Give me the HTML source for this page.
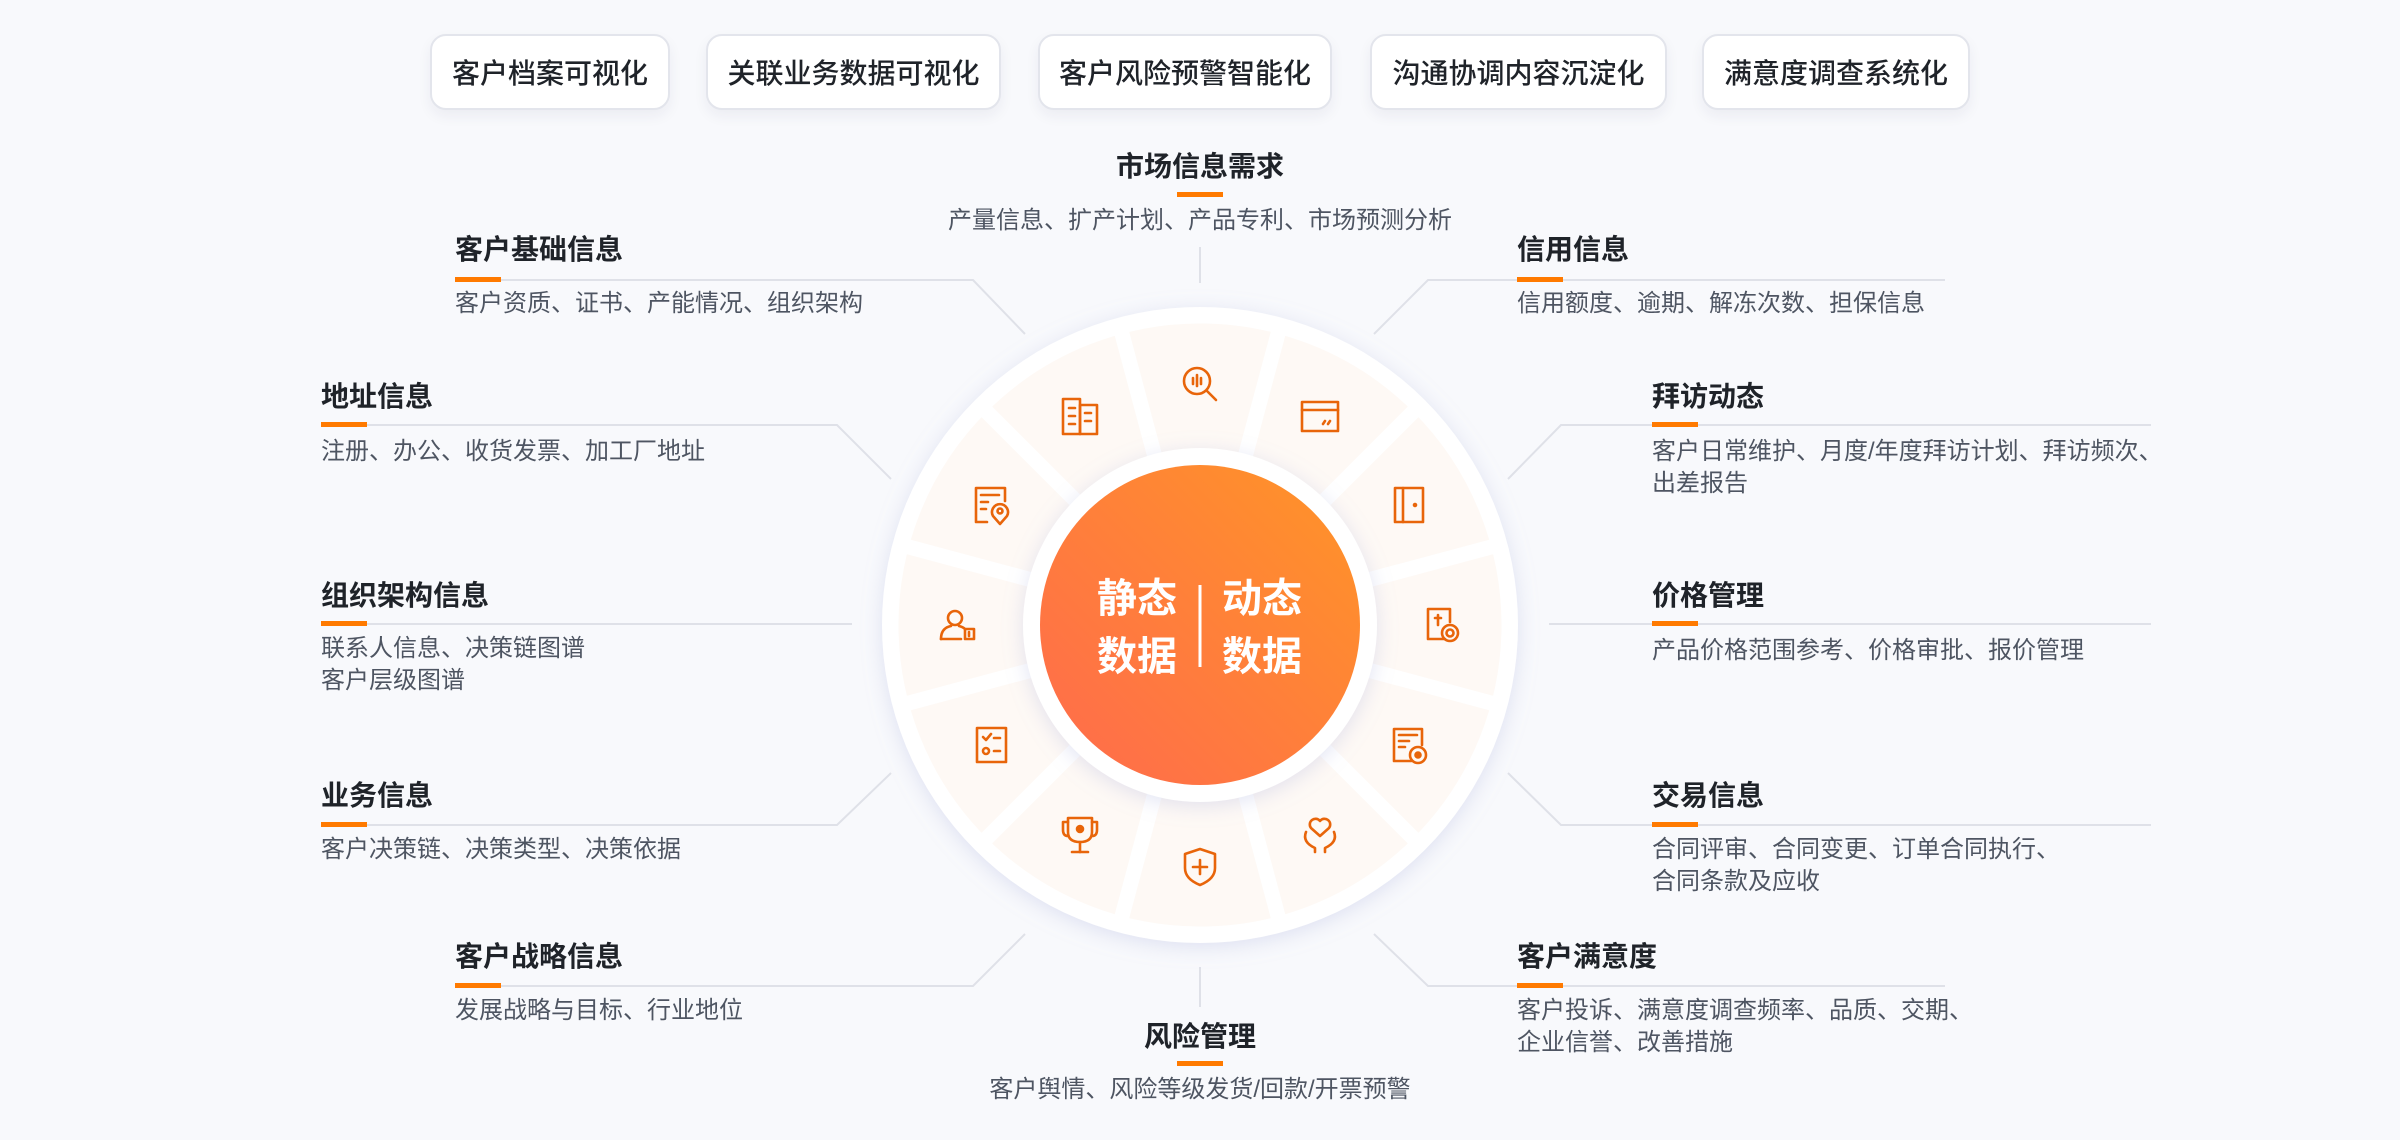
<!DOCTYPE html>
<html><head><meta charset="utf-8"><style>
*{margin:0;padding:0;box-sizing:border-box}
body{width:2400px;height:1140px;background:#f8f9fc;position:relative;overflow:hidden;font-family:"Liberation Sans","Noto Sans CJK SC",sans-serif}
.box{position:absolute;top:34px;height:76px;background:#fff;border:2px solid #e3e5ec;border-radius:16px;box-shadow:0 6px 14px rgba(30,40,80,0.06);font-size:28px;font-weight:500;color:#1f2329;display:flex;align-items:center;justify-content:center}
.t{position:absolute;font-size:28px;font-weight:600;color:#1f2329;line-height:30px;white-space:nowrap}
.d{position:absolute;font-size:24px;color:#4e5562;line-height:32px;white-space:nowrap}
.u{position:absolute;width:46px;height:5px;background:#ff7a00}
</style></head><body>
<div class="box" style="left:430px;width:240px">客户档案可视化</div>
<div class="box" style="left:706px;width:295px">关联业务数据可视化</div>
<div class="box" style="left:1038px;width:294px">客户风险预警智能化</div>
<div class="box" style="left:1370px;width:297px">沟通协调内容沉淀化</div>
<div class="box" style="left:1702px;width:268px">满意度调查系统化</div>

<svg width="2400" height="1140" style="position:absolute;left:0;top:0">
<defs>
<linearGradient id="og" x1="1" y1="0" x2="0" y2="1"><stop offset="0" stop-color="#ff9527"/><stop offset="1" stop-color="#ff6a4d"/></linearGradient>
<filter id="sh" x="-20%" y="-20%" width="140%" height="140%"><feDropShadow dx="0" dy="4" stdDeviation="10" flood-color="#a0a8d8" flood-opacity="0.3"/></filter>
</defs>
<g stroke="#dfe1e8" stroke-width="2" fill="none">
<polyline points="455,280 973,280 1025,334"/>
<polyline points="1945,280 1428,280 1374,334"/>
<polyline points="321,425 837,425 891,479"/>
<polyline points="2151,425 1561,425 1508,479"/>
<polyline points="321,624 852,624"/>
<polyline points="2151,624 1549,624"/>
<polyline points="321,825 837,825 891,773"/>
<polyline points="2151,825 1561,825 1508,773"/>
<polyline points="455,986 973,986 1025,934"/>
<polyline points="1945,986 1428,986 1374,934"/>
<line x1="1200" y1="247" x2="1200" y2="283"/>
<line x1="1200" y1="967" x2="1200" y2="1007"/>
</g>
<circle cx="1200" cy="625" r="318" fill="#fff" filter="url(#sh)"/>
<circle cx="1200" cy="625" r="239" fill="none" stroke="#fef9f5" stroke-width="125"/>
<g stroke="#fff" stroke-width="15" transform="translate(1200,625)">
<line x1="0" y1="-170" x2="0" y2="-310" transform="rotate(15)"/>
<line x1="0" y1="-170" x2="0" y2="-310" transform="rotate(45)"/>
<line x1="0" y1="-170" x2="0" y2="-310" transform="rotate(75)"/>
<line x1="0" y1="-170" x2="0" y2="-310" transform="rotate(105)"/>
<line x1="0" y1="-170" x2="0" y2="-310" transform="rotate(135)"/>
<line x1="0" y1="-170" x2="0" y2="-310" transform="rotate(165)"/>
<line x1="0" y1="-170" x2="0" y2="-310" transform="rotate(195)"/>
<line x1="0" y1="-170" x2="0" y2="-310" transform="rotate(225)"/>
<line x1="0" y1="-170" x2="0" y2="-310" transform="rotate(255)"/>
<line x1="0" y1="-170" x2="0" y2="-310" transform="rotate(285)"/>
<line x1="0" y1="-170" x2="0" y2="-310" transform="rotate(315)"/>
<line x1="0" y1="-170" x2="0" y2="-310" transform="rotate(345)"/>
</g>
<circle cx="1200" cy="625" r="177" fill="#fff" filter="url(#sh)"/>
<circle cx="1200" cy="625" r="160" fill="url(#og)"/>
<line x1="1200" y1="585" x2="1200" y2="667" stroke="#fff" stroke-width="3"/>
<g fill="#fff" font-size="40" font-weight="700" font-family="Liberation Sans, Noto Sans CJK SC, sans-serif" text-anchor="middle">
<text x="1137" y="612">静态</text><text x="1137" y="670">数据</text>
<text x="1262" y="612">动态</text><text x="1262" y="670">数据</text>
</g>
<g stroke="#e8650a" stroke-width="2.6" fill="none" stroke-linecap="round" stroke-linejoin="round">
<g transform="translate(1200,384)"><circle cx="-3" cy="-3" r="13"/><line x1="7" y1="7" x2="16" y2="16"/><line x1="-7" y1="-6" x2="-7" y2="0"/><line x1="-3" y1="-9" x2="-3" y2="2"/><line x1="1" y1="-6" x2="1" y2="0"/></g>
<g transform="translate(1320,416)"><rect x="-18" y="-14" width="36" height="29"/><line x1="-18" y1="-6" x2="18" y2="-6"/><line x1="3" y1="8" x2="5" y2="5"/><line x1="8" y1="8" x2="10" y2="5"/></g>
<g transform="translate(1409,505)"><rect x="-14" y="-17" width="28" height="34"/><line x1="-6" y1="-17" x2="-6" y2="17"/><circle cx="6" cy="0" r="1" fill="#e8650a"/></g>
<g transform="translate(1441,625)"><path d="M4,14 L-13,14 L-13,-16 L9,-16 L9,-3"/><circle cx="9" cy="8" r="8"/><circle cx="9" cy="8" r="3.5"/><path d="M-6,-7 h6 M-3,-10 v10"/></g>
<g transform="translate(1409,745)"><path d="M2,16 L-15,16 L-15,-16 L13,-16 L13,0"/><line x1="-10" y1="-10" x2="8" y2="-10"/><line x1="-10" y1="-4" x2="0" y2="-4"/><line x1="-10" y1="2" x2="-4" y2="2"/><circle cx="9" cy="10" r="8"/><circle cx="9" cy="10" r="2.5" fill="#e8650a"/></g>
<g transform="translate(1320,834)"><path d="M0,2 L-9,-6 A5,5 0 0 1 0,-13 A5,5 0 0 1 9,-6 Z"/><path d="M-14,-2 Q-18,8 -5,14 V18"/><path d="M14,-2 Q18,8 5,14 V18"/></g>
<g transform="translate(1200,866)"><path d="M-15,-12 L0,-17 L15,-12 V2 Q15,13 0,19 Q-15,13 -15,2 Z"/><line x1="0" y1="-6" x2="0" y2="8"/><line x1="-7" y1="1" x2="7" y2="1"/></g>
<g transform="translate(1080,834)"><path d="M-12,-16 H12 V-2 Q12,8 0,8 Q-12,8 -12,-2 Z"/><path d="M-12,-12 H-17 V-4 Q-17,2 -12,2"/><path d="M12,-12 H17 V-4 Q17,2 12,2"/><line x1="0" y1="8" x2="0" y2="18"/><line x1="-8" y1="18" x2="8" y2="18"/><circle cx="0" cy="-5" r="3" fill="#e8650a"/></g>
<g transform="translate(991,745)"><rect x="-14" y="-17" width="29" height="34"/><path d="M-8,-8 L-5,-5 L0,-11"/><line x1="3" y1="-7" x2="9" y2="-7"/><circle cx="-5" cy="6" r="3"/><line x1="3" y1="6" x2="9" y2="6"/></g>
<g transform="translate(959,625)"><circle cx="-4" cy="-7" r="7"/><path d="M-18,14 Q-18,3 -8,1 M0,1 Q4,2 6,4"/><line x1="-18" y1="14" x2="2" y2="14"/><rect x="6" y="4" width="9" height="10"/><line x1="10" y1="7" x2="10" y2="11"/></g>
<g transform="translate(991,505)"><path d="M-4,17 L-15,17 L-15,-17 L14,-17 L14,-4"/><line x1="-10" y1="-10" x2="8" y2="-10"/><line x1="-10" y1="-3" x2="-3" y2="-3"/><line x1="-10" y1="4" x2="-5" y2="4"/><path d="M9,19 L2,11 A8,8 0 1 1 16,11 Z"/><circle cx="9" cy="6" r="2.5"/></g>
<g transform="translate(1080,416)"><rect x="-17" y="-17" width="17" height="35"/><rect x="0" y="-11" width="17" height="29"/><line x1="-11" y1="-8" x2="-5" y2="-8"/><line x1="-11" y1="0" x2="-5" y2="0"/><line x1="-11" y1="8" x2="-5" y2="8"/><line x1="5" y1="-3" x2="11" y2="-3"/><line x1="5" y1="5" x2="11" y2="5"/></g>
</g>
</svg>

<div class="t" style="left:1050px;width:300px;text-align:center;top:152px">市场信息需求</div>
<div class="u" style="left:1177px;top:192px"></div>
<div class="d" style="left:850px;width:700px;text-align:center;top:205px">产量信息、扩产计划、产品专利、市场预测分析</div>

<div class="t" style="left:455px;top:235px">客户基础信息</div><div class="u" style="left:455px;top:277px"></div>
<div class="d" style="left:455px;top:288px">客户资质、证书、产能情况、组织架构</div>

<div class="t" style="left:1517px;top:235px">信用信息</div><div class="u" style="left:1517px;top:277px"></div>
<div class="d" style="left:1517px;top:288px">信用额度、逾期、解冻次数、担保信息</div>

<div class="t" style="left:321px;top:382px">地址信息</div><div class="u" style="left:321px;top:422px"></div>
<div class="d" style="left:321px;top:436px">注册、办公、收货发票、加工厂地址</div>

<div class="t" style="left:1652px;top:382px">拜访动态</div><div class="u" style="left:1652px;top:422px"></div>
<div class="d" style="left:1652px;top:436px">客户日常维护、月度/年度拜访计划、拜访频次、<br>出差报告</div>

<div class="t" style="left:321px;top:581px">组织架构信息</div><div class="u" style="left:321px;top:621px"></div>
<div class="d" style="left:321px;top:633px">联系人信息、决策链图谱<br>客户层级图谱</div>

<div class="t" style="left:1652px;top:581px">价格管理</div><div class="u" style="left:1652px;top:621px"></div>
<div class="d" style="left:1652px;top:635px">产品价格范围参考、价格审批、报价管理</div>

<div class="t" style="left:321px;top:781px">业务信息</div><div class="u" style="left:321px;top:822px"></div>
<div class="d" style="left:321px;top:834px">客户决策链、决策类型、决策依据</div>

<div class="t" style="left:1652px;top:781px">交易信息</div><div class="u" style="left:1652px;top:822px"></div>
<div class="d" style="left:1652px;top:834px">合同评审、合同变更、订单合同执行、<br>合同条款及应收</div>

<div class="t" style="left:455px;top:942px">客户战略信息</div><div class="u" style="left:455px;top:983px"></div>
<div class="d" style="left:455px;top:995px">发展战略与目标、行业地位</div>

<div class="t" style="left:1517px;top:942px">客户满意度</div><div class="u" style="left:1517px;top:983px"></div>
<div class="d" style="left:1517px;top:995px">客户投诉、满意度调查频率、品质、交期、<br>企业信誉、改善措施</div>

<div class="t" style="left:1050px;width:300px;text-align:center;top:1022px">风险管理</div>
<div class="u" style="left:1177px;top:1061px"></div>
<div class="d" style="left:850px;width:700px;text-align:center;top:1074px">客户舆情、风险等级发货/回款/开票预警</div>
</body></html>
